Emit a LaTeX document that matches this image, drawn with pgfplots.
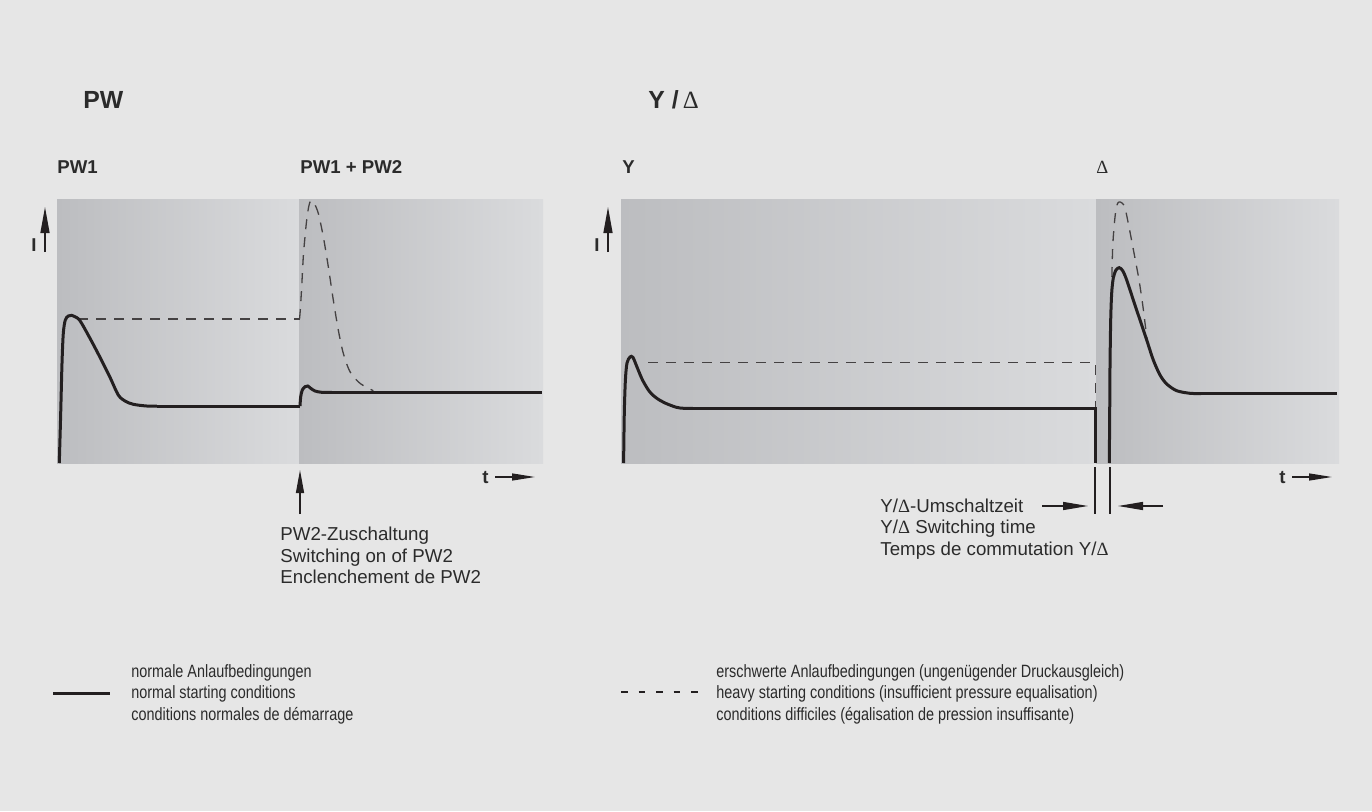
\documentclass[border=0pt]{standalone}
\usepackage{pgfplots}
\pgfplotsset{compat=1.18}
\usepackage{fontspec}
\setmainfont{Liberation Sans}
\newfontfamily\serifdelta{Liberation Serif}
\newfontfamily\narrowf{Liberation Sans}[FakeStretch=0.81]
\usetikzlibrary{arrows.meta}
\definecolor{bg}{HTML}{E6E6E6}
\definecolor{gdark}{HTML}{BCBDC0}
\definecolor{glight}{HTML}{DADBDD}
\definecolor{ink}{HTML}{231F20}
\definecolor{txt}{HTML}{2B2B2B}
\newcommand\bodyf{\fontsize{9.35}{11}\selectfont}
\newcommand\legf{\narrowf\fontsize{8.9}{11}\selectfont}
\newcommand\subf{\fontsize{9.3}{11}\selectfont\bfseries}
\newcommand\titf{\fontsize{12.4}{14}\selectfont\bfseries}
\newcommand\D{{\serifdelta Δ}}
\begin{document}
\begin{tikzpicture}
\fill[bg] (0pt,0pt) rectangle (686pt,405.5pt);
% ---------------- left panel (PW)
\begin{axis}[at={(28.5pt,174pt)}, anchor=south west, scale only axis,
  width=243pt, height=132pt, xmin=0, xmax=486, ymin=0, ymax=264,
  hide axis, clip=false]
\addplot[draw=none, left color=gdark, right color=glight] coordinates {(0,264) (242,264)} \closedcycle;
\addplot[draw=none, left color=gdark, right color=glight] coordinates {(242,264) (486,264)} \closedcycle;
% heavy starting (dashed)
\addplot[ink!85, line width=0.65pt, dash pattern=on 5pt off 4pt] coordinates {(21,144) (242.5,144)};
\addplot[ink!85, line width=0.65pt, dash pattern=on 5pt off 4pt, smooth, tension=0.5] coordinates {
(242.5,144) (243.3,153) (244.7,176.3) (246.3,206.3) (248,226.3) (249.7,243) (251.7,256.3) (253.7,262.3)
(257,260) (261.3,249.7) (266.3,226.3) (271.3,196.3) (276.3,163) (281.3,133) (286.3,109.7) (293,91.3)
(303,79.7) (316.3,72.3)};
% normal starting (solid)
\addplot[ink, line width=1.5pt, smooth, tension=0.5] coordinates {
(2.3,0) (3.7,49.7) (5,99.7) (6.3,129.7) (8.3,143) (11.3,147) (14.7,147.7) (18,146.3) (23,142.3)
(33,124.7) (43,105.7) (53,85.7) (61.3,68) (68,62) (76.3,58.7) (89.7,57) (100,57)};
\addplot[ink, line width=1.5pt] coordinates {(100,57) (243,57)};
\addplot[ink, line width=1.5pt, smooth, tension=0.5] coordinates {
(243,57) (243.7,66.3) (245.3,73) (248,76.3) (250.7,77) (253.7,74.7) (258,72) (264.7,70.7) (275,70.7)};
\addplot[ink, line width=1.5pt] coordinates {(275,70.7) (484.7,70.7)};
\end{axis}
% ---------------- right panel (Y / Delta)
\begin{axis}[at={(310.5pt,174pt)}, anchor=south west, scale only axis,
  width=359pt, height=132pt, xmin=0, xmax=718, ymin=0, ymax=264,
  hide axis, clip=false]
\addplot[draw=none, left color=gdark, right color=glight] coordinates {(0,264) (475,264)} \closedcycle;
\addplot[draw=none, left color=gdark, right color=glight] coordinates {(475,264) (718,264)} \closedcycle;
% heavy starting (dashed)
\addplot[ink!85, line width=0.65pt, dash pattern=on 5pt off 4pt] coordinates {(27,100.3) (474.3,100.3) (474.3,55)};
\addplot[ink!85, line width=0.65pt, dash pattern=on 5pt off 4pt, smooth, tension=0.5] coordinates {
(490.5,168) (491.7,216) (494,246) (496,258) (498,261) (501,260) (504,255) (508,236) (513,210)
(518,183) (522,156) (525.5,128) (527,118)};
% normal starting (solid)
\addplot[ink, line width=1.5pt, smooth, tension=0.5] coordinates {
(2.6,0) (3.3,50) (4.4,83) (6,100) (9,106) (11.9,105.7) (16,96) (21.5,83) (28.6,71.3) (35.8,64.7)
(44.7,59.7) (55.4,55.7) (62.6,54.7) (72,54.7)};
\addplot[ink, line width=1.5pt] coordinates {(72,54.7) (474,54.7) (474,0)};
\addplot[ink, line width=1.5pt, smooth, tension=0.5] coordinates {
(488.3,0) (488.7,50) (489,96) (489.7,143) (490.7,170) (492.3,185) (495,193) (498.3,195.3) (501.7,192.3)
(505.7,183) (512.3,163) (519,143) (525.7,123) (532.3,103) (539,88) (545.7,79) (555.7,72.3) (569,69.7)
(580,69.5)};
\addplot[ink, line width=1.5pt] coordinates {(580,69.5) (716,69.5)};
\end{axis}
% ---------------- annotations (pixel coordinates, y downward)
\begin{scope}[x=0.5pt, y=-0.5pt, shift={(0pt,405.5pt)}, every node/.style={inner sep=0pt, anchor=base west, text=txt}]
\node[font=\titf] at (83,108) {PW};
\node[font=\titf] at (648,108) {Y /\,\mdseries\serifdelta Δ};
\node[font=\subf] at (57,173) {PW1};
\node[font=\subf] at (300,173) {PW1 + PW2};
\node[font=\subf] at (622,173) {Y};
\node[font=\fontsize{9.3}{11}\selectfont] at (1096,173) {\D};
\node[font=\subf] at (31,251) {I};
\node[font=\subf] at (594,251) {I};
\draw[ink, line width=0.65pt, -{Triangle[length=13pt,width=4.5pt]}] (45,252) -- (45,207);
\draw[ink, line width=0.65pt, -{Triangle[length=13pt,width=4.5pt]}] (608,252) -- (608,207);
% time axes
\node[font=\subf] at (482,483) {t};
\node[font=\subf] at (1279,483) {t};
\draw[ink, line width=0.65pt, -{Triangle[length=11.5pt,width=3.5pt]}] (495,477) -- (535,477);
\draw[ink, line width=0.65pt, -{Triangle[length=11.5pt,width=3.5pt]}] (1292,477) -- (1332,477);
% PW2 switching
\draw[ink, line width=0.65pt, -{Triangle[length=11.5pt,width=4pt]}] (300,514) -- (300,470);
\node[font=\bodyf] at (280,540) {PW2-Zuschaltung};
\node[font=\bodyf] at (280,562) {Switching on of PW2};
\node[font=\bodyf] at (280,583) {Enclenchement de PW2};
% Y/Delta switching time
\draw[ink, line width=0.6pt] (1095,467) -- (1095,514);
\draw[ink, line width=0.6pt] (1110,467) -- (1110,514);
\draw[ink, line width=0.65pt, -{Triangle[length=12.5pt,width=4pt]}] (1042,506) -- (1088,506);
\draw[ink, line width=0.65pt, -{Triangle[length=12.5pt,width=4pt]}] (1163,506) -- (1118,506);
\node[font=\bodyf] at (880,512) {Y/\D-Umschaltzeit};
\node[font=\bodyf] at (880,533) {Y/\D\ Switching time};
\node[font=\bodyf] at (880,555) {Temps de commutation Y/\D};
% legend
\draw[ink, line width=1.5pt] (53,693) -- (110,693);
\node[font=\legf] at (131,677) {normale Anlaufbedingungen};
\node[font=\legf] at (131,698) {normal starting conditions};
\node[font=\legf] at (131,720) {conditions normales de démarrage};
\draw[ink, line width=0.8pt, dash pattern=on 3.25pt off 5.5pt] (621,692) -- (698,692);
\node[font=\legf] at (716,677) {erschwerte Anlaufbedingungen (ungenügender Druckausgleich)};
\node[font=\legf] at (716,698) {heavy starting conditions (insufficient pressure equalisation)};
\node[font=\legf] at (716,720) {conditions difficiles (égalisation de pression insuffisante)};
\end{scope}
\end{tikzpicture}
\end{document}
